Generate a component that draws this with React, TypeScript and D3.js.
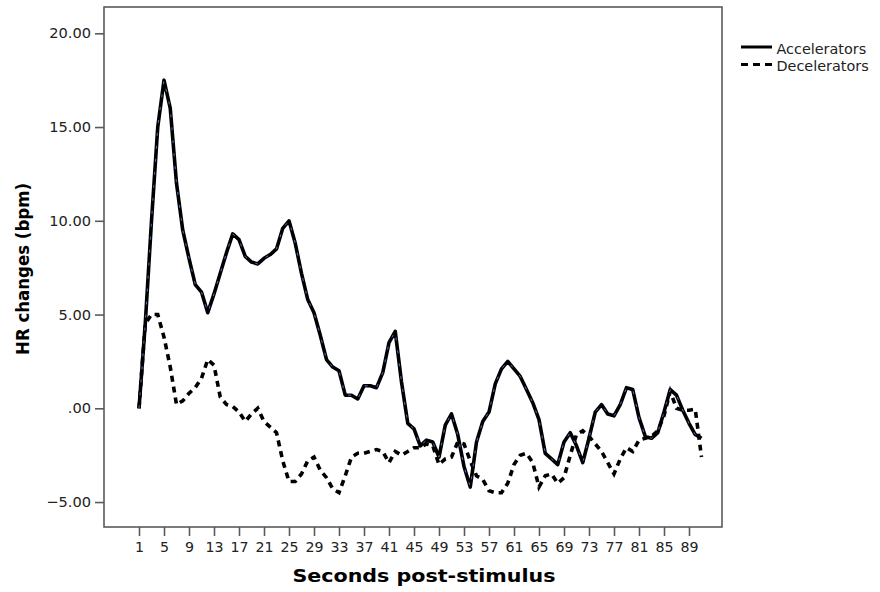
import React, { useEffect, useRef } from "react";
import * as d3 from "d3";

// seconds post-stimulus (x categories)
const seconds: number[] = d3.range(1, 92);

const accelerators: number[] = [
  0, 4.5, 10.0, 15.0, 17.5, 16.0, 12.0, 9.5, 8.0, 6.6,
  6.2, 5.1, 6.1, 7.2, 8.3, 9.3, 9.0, 8.1, 7.8, 7.7,
  8.0, 8.2, 8.5, 9.6, 10.0, 8.8, 7.2, 5.8, 5.1, 3.9,
  2.6, 2.2, 2.0, 0.7, 0.7, 0.5, 1.2, 1.2, 1.1, 1.9,
  3.5, 4.1, 1.4, -0.8, -1.1, -2.0, -1.7, -1.8, -2.6, -0.9,
  -0.3, -1.4, -3.1, -4.2, -1.8, -0.7, -0.2, 1.3, 2.1, 2.5,
  2.1, 1.7, 1.0, 0.3, -0.6, -2.4, -2.7, -3.0, -1.8, -1.3,
  -2.0, -2.9, -1.6, -0.2, 0.2, -0.3, -0.4, 0.2, 1.1, 1.0,
  -0.5, -1.5, -1.6, -1.3, -0.2, 1.0, 0.7, -0.1, -0.8, -1.4,
  -1.6,
];

const decelerators: number[] = [
  0, 4.5, 5.0, 5.0, 3.8, 2.2, 0.2, 0.4, 0.8, 1.1,
  1.6, 2.6, 2.3, 0.6, 0.2, 0.1, -0.2, -0.7, -0.3, 0.0,
  -0.7, -1.0, -1.3, -2.8, -3.9, -3.9, -3.5, -2.8, -2.6, -3.3,
  -3.7, -4.3, -4.5, -3.6, -2.6, -2.4, -2.4, -2.3, -2.2, -2.3,
  -2.9, -2.3, -2.5, -2.3, -2.1, -2.1, -1.9, -2.0, -3.0, -2.7,
  -2.6, -1.8, -1.9, -2.8, -3.6, -3.8, -4.4, -4.5, -4.5, -4.0,
  -3.0, -2.5, -2.4, -2.9, -4.2, -3.6, -3.5, -4.0, -3.7, -2.5,
  -1.4, -1.2, -1.5, -1.9, -2.3, -2.9, -3.5, -2.7, -2.1, -2.3,
  -1.7, -1.6, -1.5, -1.2, -0.4, 0.9, 0.0, -0.1, -0.1, -0.05,
  -2.6,
];

const xTickLabels: number[] = [
  1, 5, 9, 13, 17, 21, 25, 29, 33, 37, 41, 45, 49, 53, 57, 61, 65, 69, 73, 77, 81, 85, 89,
];
const yTicks: number[] = [-5, 0, 5, 10, 15, 20];

const seriesNames = ["Accelerators", "Decelerators"];

const width = 880;
const height = 592;
const frame = { left: 104, top: 7, right: 722, bottom: 527 };
const font = "'DejaVu Sans', Verdana, sans-serif";

function App() {
  const svgRef = useRef<SVGSVGElement>(null);

  useEffect(() => {
    const svg = d3.select(svgRef.current);
    svg.selectAll("*").remove();

    const x = d3.scaleLinear().domain([1, 91]).range([139, 701.5]);
    const y = d3.scaleLinear().domain([0, 20]).range([408.3, 33.3]);

    // frame
    svg
      .append("rect")
      .attr("x", frame.left)
      .attr("y", frame.top)
      .attr("width", frame.right - frame.left)
      .attr("height", frame.bottom - frame.top)
      .attr("fill", "none")
      .attr("stroke", "#5a5a5a")
      .attr("stroke-width", 1.6);

    // y axis
    const fmt = (v: number) => d3.format(".2f")(v).replace(/^0\./, ".");
    const yAxis = svg
      .append("g")
      .attr("transform", `translate(${frame.left},0)`)
      .call(d3.axisLeft(y).tickValues(yTicks).tickSize(9).tickPadding(4).tickFormat((d) => fmt(+d)));
    yAxis.select(".domain").remove();
    yAxis.selectAll(".tick line").attr("stroke", "#5a5a5a").attr("stroke-width", 1.6);
    yAxis
      .selectAll(".tick text")
      .attr("fill", "#222")
      .style("font-family", font)
      .style("font-size", "14.6px");

    // x axis
    const xAxis = svg
      .append("g")
      .attr("transform", `translate(0,${frame.bottom})`)
      .call(d3.axisBottom(x).tickValues(xTickLabels).tickSize(9).tickPadding(6).tickFormat((d) => String(d)));
    xAxis.select(".domain").remove();
    xAxis.selectAll(".tick line").attr("stroke", "#5a5a5a").attr("stroke-width", 1.6);
    xAxis
      .selectAll(".tick text")
      .attr("fill", "#222")
      .style("font-family", font)
      .style("font-size", "14.2px");

    // titles
    svg
      .append("text")
      .attr("x", (frame.left + frame.right) / 2 + 11)
      .attr("y", 582)
      .attr("text-anchor", "middle")
      .attr("textLength", 263)
      .attr("lengthAdjust", "spacingAndGlyphs")
      .style("font-family", font)
      .style("font-weight", "bold")
      .style("font-size", "18.5px")
      .text("Seconds post-stimulus");

    svg
      .append("text")
      .attr("transform", `translate(29,269) rotate(-90)`)
      .attr("text-anchor", "middle")
      .attr("textLength", 172)
      .attr("lengthAdjust", "spacingAndGlyphs")
      .style("font-family", font)
      .style("font-weight", "bold")
      .style("font-size", "17px")
      .text("HR changes (bpm)");

    const line = d3
      .line<number>()
      .x((_, i) => x(seconds[i]))
      .y((d) => y(d))
      .curve(d3.curveLinear);

    // decelerators (dashed)
    svg
      .append("path")
      .attr("d", line(decelerators))
      .attr("fill", "none")
      .attr("stroke", "#000")
      .attr("stroke-width", 3.6)
      .attr("stroke-dasharray", "6,5");

    // accelerators (solid)
    svg
      .append("path")
      .attr("d", line(accelerators))
      .attr("fill", "none")
      .attr("stroke", "#000")
      .attr("stroke-width", 3.6)
      .attr("stroke-linejoin", "round");
    svg
      .append("path")
      .attr("d", line(accelerators))
      .attr("fill", "none")
      .attr("stroke", "#4a70c4")
      .attr("stroke-width", 1)
      .attr("stroke-dasharray", "3,10");

    // legend
    const legend = svg.append("g");
    const legendRows = [
      { name: seriesNames[0], y: 47, dash: null },
      { name: seriesNames[1], y: 64.5, dash: "7,5" },
    ];
    legendRows.forEach((r) => {
      legend
        .append("line")
        .attr("x1", 741)
        .attr("x2", 772)
        .attr("y1", r.y)
        .attr("y2", r.y)
        .attr("stroke", "#000")
        .attr("stroke-width", 3)
        .attr("stroke-dasharray", r.dash);
      legend
        .append("text")
        .attr("x", 776.5)
        .attr("y", r.y + 6.5)
        .attr("fill", "#222")
        .style("font-family", font)
        .style("font-size", "14.4px")
        .text(r.name);
    });
  }, []);

  return (
    <svg
      ref={svgRef}
      width={width}
      height={height}
      style={{ position: "absolute", left: 0, top: 0, background: "#fff" }}
    />
  );
}

export default App;
